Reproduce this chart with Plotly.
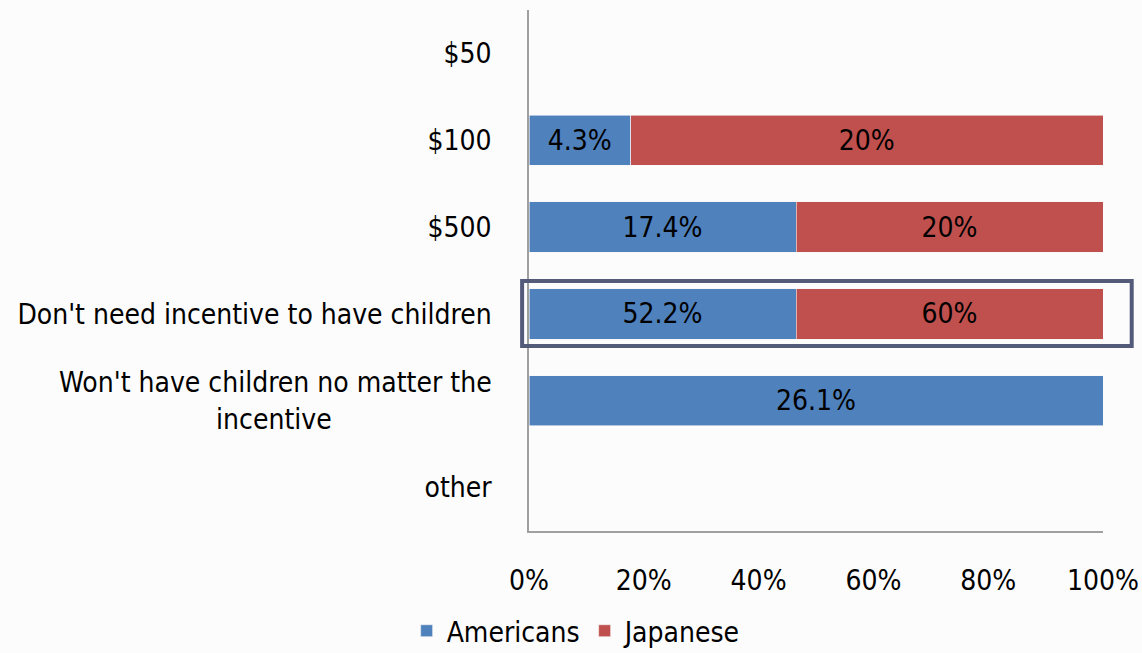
import plotly.graph_objects as go

# Survey answers: what incentive would make people have children
categories = [
    "$50",
    "$100",
    "$500",
    "Don't need incentive to have children",
    "Won't have children no matter the<br>incentive" + "\u00a0" * 20,
    "other",
]
americans = [None, 4.3, 17.4, 52.2, 26.1, None]
japanese = [None, 20, 20, 60, None, None]
x_ticks = [0, 20, 40, 60, 80, 100]
x_tick_labels = ["0%", "20%", "40%", "60%", "80%", "100%"]

FONT = "DejaVu Sans Condensed, sans-serif"
SIZE = 28


def labels(vals):
    return ["" if v is None else f"{v:g}%" for v in vals]


fig = go.Figure()
for name, vals, color in [
    ("Americans", americans, "#4f81bd"),
    ("Japanese", japanese, "#c0504d"),
]:
    fig.add_trace(go.Bar(
        y=categories,
        x=vals,
        name=name,
        orientation="h",
        marker=dict(color=color, line=dict(width=0.6, color="#f5f5f5")),
        text=labels(vals),
        textposition="inside",
        insidetextanchor="middle",
        textangle=0,
        constraintext="none",
        textfont=dict(color="black", size=SIZE, family=FONT),
        hoverinfo="name+x",
    ))

# Outline around the "Don't need incentive" row
fig.add_shape(
    type="rect",
    xref="paper", yref="y",
    x0=-0.012, x1=1.05,
    y0=3 - 0.38, y1=3 + 0.37,
    line=dict(color="#535a7a", width=4),
)

fig.update_layout(
    barmode="stack",
    barnorm="percent",
    bargap=0.42,
    width=1142,
    height=653,
    margin=dict(l=529, r=39, t=10, b=122, autoexpand=False),
    paper_bgcolor="#fcfcfc",
    plot_bgcolor="#fcfcfc",
    font=dict(family=FONT, size=SIZE, color="black"),
    showlegend=True,
    legend=dict(
        orientation="h",
        traceorder="normal",
        xref="paper", x=0.083, xanchor="center",
        yref="paper", y=-0.192, yanchor="middle",
        bgcolor="rgba(0,0,0,0)",
        font=dict(size=SIZE, family=FONT),
        itemwidth=30,
        tracegroupgap=0,
    ),
    xaxis=dict(
        range=[0, 100],
        tickvals=x_ticks,
        ticktext=x_tick_labels,
        showgrid=False,
        zeroline=False,
        showline=True,
        linecolor="#a0a0a0",
        linewidth=1.5,
        ticks="",
        ticklabelstandoff=24,
        tickfont=dict(size=SIZE),
        automargin=False,
        fixedrange=True,
    ),
    yaxis=dict(
        categoryorder="array",
        categoryarray=categories,
        autorange="reversed",
        showgrid=False,
        zeroline=False,
        showline=True,
        linecolor="#a0a0a0",
        linewidth=1.5,
        ticks="",
        ticklabelstandoff=30,
        tickfont=dict(size=SIZE),
        automargin=False,
        fixedrange=True,
    ),
)

fig.write_html("out.html")
